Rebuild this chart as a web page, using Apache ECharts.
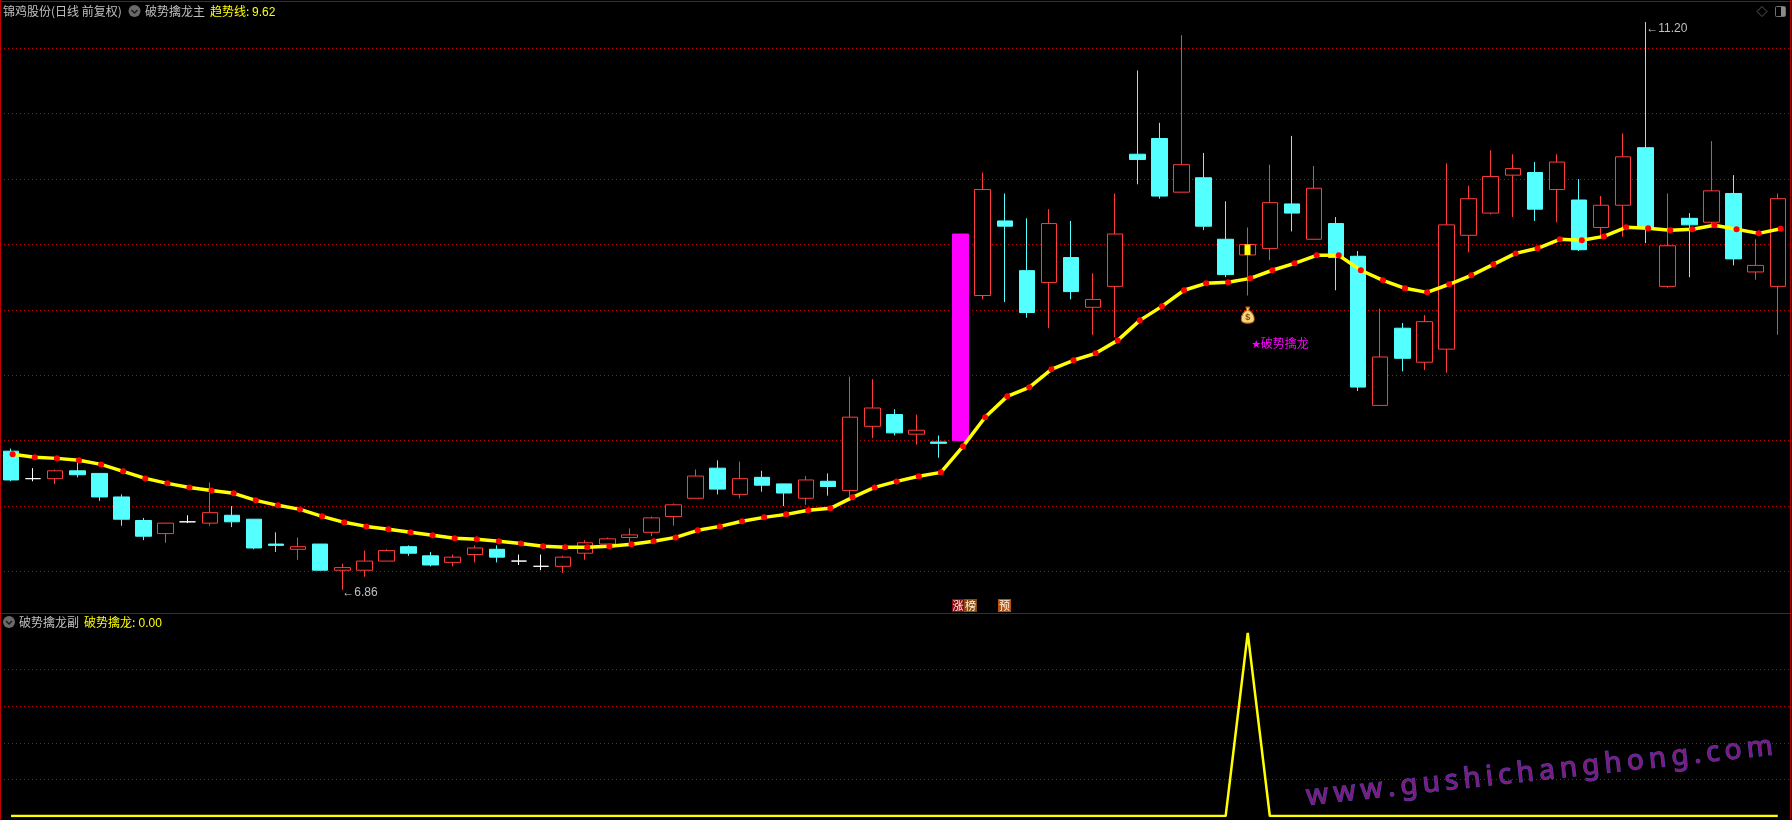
<!DOCTYPE html>
<html>
<head>
<meta charset="utf-8">
<style>html,body{margin:0;padding:0;background:#000}#c{width:1792px;height:820px}</style>
<script src="https://cdn.jsdelivr.net/npm/echarts@6/dist/echarts.min.js"></script>
</head>
<body>
<div id="c"></div>
<script>
// ---------- data ----------
const stockTitle = '锦鸡股份(日线 前复权)';
const mainName = '破势擒龙主';
const trendName = '趋势线:';
const trendLast = '9.62';
const subName = '破势擒龙副';
const signalName = '破势擒龙:';
const signalLast = '0.00';
const watermark = 'www.gushichanghong.com';
const gridPrices = [7, 7.5, 8, 8.5, 9, 9.5, 10, 10.5, 11];
const gridSignals = [0.2, 0.4, 0.6, 0.8];

const opens = [7.92,7.71,7.71,7.77,7.75,7.57,7.39,7.29,7.38,7.37,7.43,7.40,7.21,7.17,7.21,7.01,7.01,7.08,7.19,7.12,7.07,7.13,7.17,7.08,7.04,7.04,7.14,7.21,7.26,7.30,7.42,7.56,7.79,7.59,7.72,7.67,7.56,7.69,7.62,8.11,8.20,8.05,7.99,8.00,9.11,9.68,9.30,9.21,9.40,9.02,9.18,10.19,10.31,9.90,10.01,9.54,9.42,9.47,9.81,9.54,9.66,9.41,8.27,8.86,8.60,8.70,9.57,9.74,10.03,10.05,9.92,9.84,9.63,9.80,10.24,9.18,9.70,9.67,9.89,9.29,9.18];
const closes = [7.70,7.71,7.77,7.74,7.57,7.40,7.27,7.37,7.38,7.45,7.38,7.18,7.20,7.19,7.01,7.03,7.08,7.16,7.14,7.05,7.11,7.18,7.11,7.08,7.04,7.11,7.22,7.25,7.28,7.41,7.51,7.73,7.63,7.71,7.66,7.60,7.70,7.65,8.18,8.25,8.06,8.08,7.98,9.58,9.92,9.64,8.98,9.66,9.14,9.08,9.58,10.15,9.87,10.11,9.64,9.27,9.50,9.82,9.74,9.93,9.40,8.41,8.64,8.63,8.91,9.65,9.85,10.02,10.08,9.77,10.13,9.46,9.80,10.17,9.63,9.49,9.65,9.91,9.39,9.34,9.85];
const lows = [7.69,7.69,7.67,7.72,7.54,7.35,7.24,7.22,7.37,7.35,7.34,7.17,7.15,7.09,7.01,6.86,6.96,7.08,7.12,7.04,7.04,7.07,7.07,7.05,7.01,6.99,7.09,7.18,7.21,7.27,7.35,7.56,7.59,7.56,7.61,7.50,7.51,7.58,7.54,8.02,8.04,7.97,7.87,8.00,9.08,9.06,8.94,8.86,9.08,8.81,8.79,9.96,9.85,9.90,9.61,9.25,9.11,9.38,9.60,9.54,9.15,8.38,8.27,8.53,8.54,8.52,9.44,9.73,9.71,9.68,9.67,9.45,9.56,9.56,9.51,9.17,9.25,9.65,9.34,9.23,8.81];
const highs = [7.94,7.79,7.78,7.84,7.75,7.59,7.41,7.37,7.43,7.68,7.50,7.40,7.30,7.26,7.21,7.06,7.16,7.17,7.20,7.15,7.13,7.20,7.20,7.13,7.13,7.12,7.24,7.26,7.33,7.42,7.52,7.78,7.85,7.84,7.77,7.67,7.73,7.75,8.49,8.47,8.24,8.20,8.04,9.58,10.05,9.89,9.70,9.77,9.68,9.28,9.89,10.83,10.43,11.10,10.20,9.83,9.63,10.11,10.33,10.10,9.71,9.45,9.01,8.90,8.96,10.12,9.95,10.22,10.19,10.13,10.19,10.00,9.87,10.35,11.20,9.89,9.74,10.29,10.03,9.54,9.89];
const trend = [7.896,7.873,7.865,7.850,7.819,7.766,7.712,7.674,7.643,7.620,7.598,7.544,7.506,7.475,7.422,7.376,7.345,7.323,7.300,7.277,7.254,7.246,7.231,7.215,7.193,7.185,7.185,7.193,7.208,7.231,7.261,7.315,7.345,7.384,7.414,7.437,7.468,7.483,7.567,7.643,7.689,7.728,7.758,7.957,8.179,8.339,8.408,8.546,8.615,8.668,8.767,8.920,9.027,9.150,9.203,9.211,9.241,9.303,9.356,9.417,9.417,9.303,9.226,9.165,9.134,9.196,9.264,9.348,9.432,9.471,9.540,9.532,9.562,9.631,9.624,9.608,9.616,9.647,9.616,9.585,9.620];
const signal = [0,0,0,0,0,0,0,0,0,0,0,0,0,0,0,0,0,0,0,0,0,0,0,0,0,0,0,0,0,0,0,0,0,0,0,0,0,0,0,0,0,0,0,0,0,0,0,0,0,0,0,0,0,0,0,0,1,0,0,0,0,0,0,0,0,0,0,0,0,0,0,0,0,0,0,0,0,0,0,0,0];
const whiteDojis = [1, 8, 23, 24];
const limitUpIndex = 43;
const signalIndex = 56;
const signalStick = [9.42, 9.50];
const lowMark = 6.86;
const highMark = 11.20;
const bagPrice = 8.96;
const signalTextPrice = 8.75;
const signalStar = '★';
const signalText = '破势擒龙';

// ---------- styles ----------
const RED = '#FF3C3C', CYAN = '#54FFFF', BORDER = '#A80000', DOT = '#C80000', GRAY = '#C0C0C0';
const CJK = '"Noto Sans CJK SC", sans-serif';
const NUM = '"Liberation Sans", Arial, sans-serif';
const categories = opens.map((_, i) => i);

const candleData = opens.map((o, i) => {
  const value = [o, closes[i], lows[i], highs[i]];
  if (whiteDojis.includes(i)) {
    return { value, itemStyle: { color: '#fff', color0: '#fff', borderColor: '#fff', borderColor0: '#fff', borderColorDoji: '#fff' } };
  }
  if (i === limitUpIndex) {
    return { value, itemStyle: { color: '#FF00FF', borderColor: '#FF00FF' } };
  }
  return value;
});
const stickData = opens.map((_, i) => i === signalIndex
  ? [signalStick[0], signalStick[1], signalStick[0], signalStick[1]]
  : ['-', '-', '-', '-']);

const hiddenY = (extra) => Object.assign({
  scale: true,
  axisLine: { show: false },
  axisLabel: { show: false },
  splitLine: { show: false },
  axisTick: { show: false }
}, extra);
const dotted = { show: true, lineStyle: { color: DOT, width: 1, type: [1, 3] } };

const text = (x, y, t, fill, font) => ({
  type: 'text', x, y, silent: true, z: 50,
  style: { text: t, fill, font, textVerticalAlign: 'middle', verticalAlign: 'middle' }
});
const hline = (x1, y, x2, c) => ({ type: 'line', silent: true, z: 40, shape: { x1, y1: y, x2, y2: y }, style: { stroke: c, lineWidth: 1 } });
const vline = (x, y1, y2, c, w) => ({ type: 'line', silent: true, z: 40, shape: { x1: x, y1, x2: x, y2 }, style: { stroke: c, lineWidth: w || 1 } });
const chevron = (cx, cy) => ([
  { type: 'circle', silent: true, z: 50, shape: { cx, cy, r: 6 }, style: { fill: '#6A6A6A' } },
  { type: 'polyline', silent: true, z: 51, shape: { points: [[cx - 3, cy - 1], [cx, cy + 2], [cx + 3, cy - 1]] }, style: { stroke: '#1c1c1c', lineWidth: 1.5, fill: null } }
]);
const badge = (x, w, t, bg) => ([
  { type: 'rect', silent: true, z: 50, shape: { x, y: 599, width: w, height: 13 }, style: { fill: bg } },
  { type: 'text', silent: true, z: 51, x: x + w / 2, y: 605.5, style: { text: t, fill: '#FFF4E0', font: '11px ' + CJK, align: 'center', verticalAlign: 'middle' } }
]);

// watermark: one rotated glyph after another, so letters can be spaced out
function watermarkGlyphs() {
  const font = '28px "Noto Sans", sans-serif';
  const ctx = document.createElement('canvas').getContext('2d');
  ctx.font = font;
  const angle = 0.108, gap = 5.2;
  let x = 1308, y = 811;
  const out = [];
  for (const ch of watermark) {
    out.push({
      type: 'text', silent: true, z: 30, x, y, rotation: angle, originX: 0, originY: 0,
      style: { text: ch, font, fill: '#84187F', stroke: '#4646A8', lineWidth: 1.2, verticalAlign: 'bottom', textVerticalAlign: 'bottom' }
    });
    const adv = ctx.measureText(ch).width + gap;
    x += adv * Math.cos(angle);
    y -= adv * Math.sin(angle);
  }
  return out;
}

const option = {
  backgroundColor: '#000',
  animation: false,
  grid: [
    { left: -1.4, top: 3, width: 1790.2, height: 610 },
    { left: 1.6, top: 3, width: 1790.2, height: 610 },
    { left: -1.4, top: 633, width: 1790.2, height: 183 }
  ],
  xAxis: [0, 1, 2].map(g => ({ type: 'category', gridIndex: g, data: categories, boundaryGap: true, show: false })),
  yAxis: [
    hiddenY({ gridIndex: 0, min: 6.683, max: 11.346, splitLine: dotted, axisTick: { show: false, customValues: gridPrices }, axisLabel: { show: false, customValues: gridPrices } }),
    hiddenY({ gridIndex: 1, min: 6.683, max: 11.346 }),
    hiddenY({ gridIndex: 2, min: 0, max: 1, splitLine: dotted, axisTick: { show: false, customValues: gridSignals }, axisLabel: { show: false, customValues: gridSignals } })
  ],
  series: [
    {
      type: 'candlestick', name: 'K', xAxisIndex: 0, yAxisIndex: 0, barWidth: 16, z: 2,
      itemStyle: { color: '#000', color0: CYAN, borderColor: RED, borderColor0: CYAN, borderColorDoji: CYAN, borderWidth: 1 },
      data: candleData,
      markPoint: {
        symbol: 'circle', symbolSize: 0, silent: true, animation: false,
        label: { show: true, position: 'right', distance: 0, color: GRAY, fontFamily: NUM, fontSize: 12 },
        data: [
          { coord: [15, lowMark], value: lowMark, label: { formatter: '←' + lowMark.toFixed(2), offset: [0, 3] } },
          { coord: [74, highMark], value: highMark, label: { formatter: '←' + highMark.toFixed(2), offset: [1, 7] } },
          {
            coord: [signalIndex, signalTextPrice], value: signalTextPrice,
            label: {
              formatter: '{s|' + signalStar + '}{t|' + signalText + '}', position: 'right', offset: [4, 1],
              rich: { s: { color: '#FF00FF', fontSize: 9, fontFamily: CJK }, t: { color: '#FF00FF', fontSize: 12, fontFamily: CJK } }
            }
          },
          {
            coord: [signalIndex, bagPrice], value: bagPrice, symbol: 'path://M5 0 L9 0 L8 3 C12 5 14 9 14 12 C14 15 11 16 7 16 C3 16 0 15 0 12 C0 9 2 5 6 3 Z',
            symbolSize: [13, 16], itemStyle: { color: '#F4D67E', borderColor: '#C8620A', borderWidth: 1 },
            label: { formatter: '$', position: 'inside', color: '#8A4A00', fontSize: 9, fontWeight: 'bold', offset: [0, 2] }
          }
        ]
      }
    },
    {
      type: 'candlestick', name: 'signal', xAxisIndex: 0, yAxisIndex: 0, barWidth: 7, z: 3,
      itemStyle: { color: '#FFFF00', color0: '#FFFF00', borderColor: '#FFFF00', borderColor0: '#FFFF00', borderWidth: 0 },
      data: stickData
    },
    {
      type: 'line', name: '趋势线', xAxisIndex: 1, yAxisIndex: 1, z: 5, data: trend,
      showAllSymbol: true, symbol: 'circle', symbolSize: 6,
      lineStyle: { color: '#FFFF00', width: 3.5 },
      itemStyle: { color: '#FF0000' }
    },
    {
      type: 'line', name: '破势擒龙', xAxisIndex: 2, yAxisIndex: 2, z: 5, data: signal, showSymbol: false,
      lineStyle: { color: '#FFFF00', width: 2.5 }
    }
  ],
  graphic: [
    hline(0, 1.5, 1792, BORDER),
    hline(0, 613.5, 1792, BORDER),
    vline(0.5, 0, 820, '#C00000', 1),
    vline(1790.5, 0, 820, BORDER, 1),
    text(3, 11, stockTitle, GRAY, '12px ' + CJK),
    ...chevron(134.5, 11),
    text(145, 11, mainName, GRAY, '12px ' + CJK),
    text(210, 11, trendName, '#FFFF00', '12px ' + CJK),
    text(252, 12.5, trendLast, '#FFFF00', '12px ' + NUM),
    ...chevron(9, 622),
    text(19, 622, subName, GRAY, '12px ' + CJK),
    text(84, 622, signalName, '#FFFF00', '12px ' + CJK),
    text(138.5, 623.5, signalLast, '#FFFF00', '12px ' + NUM),
    { type: 'polygon', silent: true, z: 50, shape: { points: [[1762, 6.5], [1767, 11.5], [1762, 16.5], [1757, 11.5]] }, style: { stroke: '#5A5A5A', fill: null, lineWidth: 1 } },
    { type: 'rect', silent: true, z: 50, shape: { x: 1775.5, y: 6.5, width: 10, height: 10, r: 1 }, style: { stroke: '#707070', fill: null, lineWidth: 1 } },
    { type: 'rect', silent: true, z: 50, shape: { x: 1781, y: 7, width: 4, height: 9 }, style: { fill: '#8A8A8A' } },
    ...badge(952, 12, '涨', '#8A0A14'),
    ...badge(964, 13, '榜', '#8A4A10'),
    ...badge(998, 13, '预', '#B8500F'),
    ...watermarkGlyphs()
  ]
};
const chart = echarts.init(document.getElementById('c'), null, { renderer: 'canvas' });
chart.setOption(option);
</script>
</body>
</html>
